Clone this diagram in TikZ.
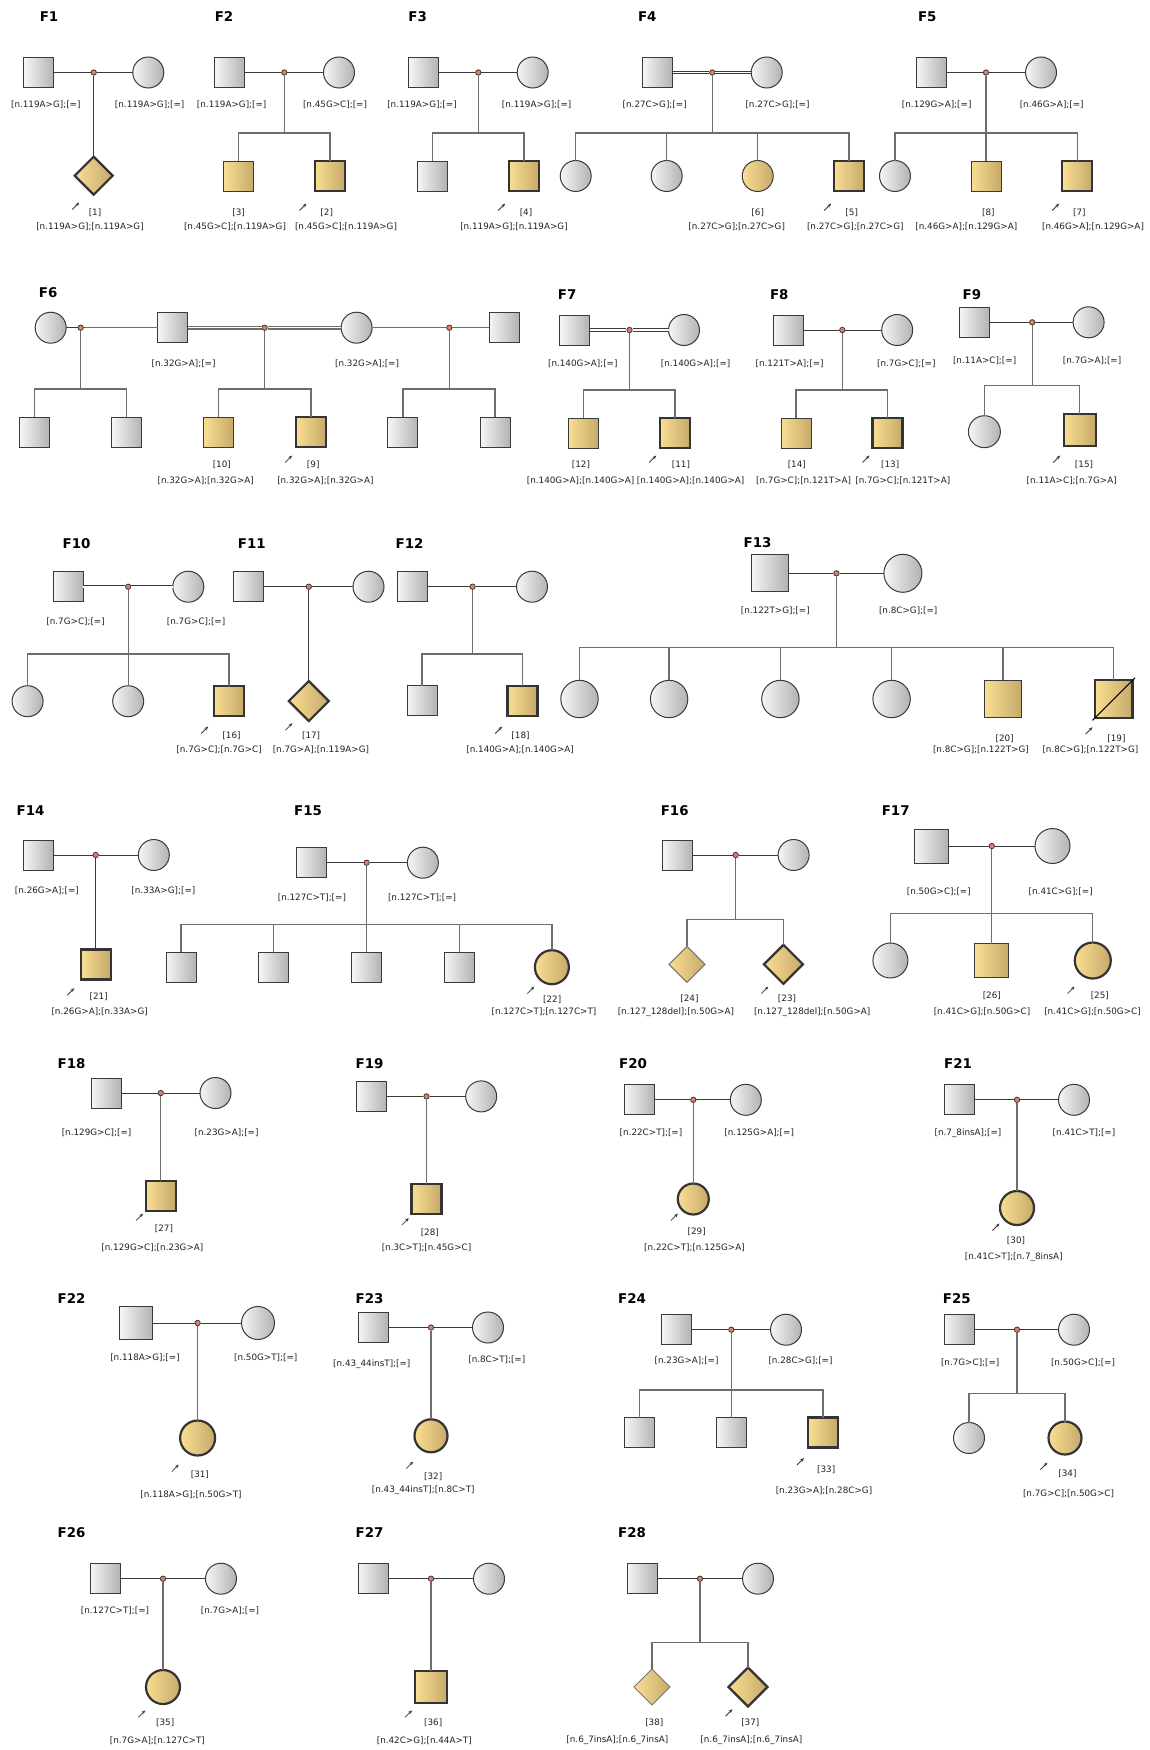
\documentclass[tikz,border=0pt]{standalone}
\usepackage{fontspec}
\setmainfont{DejaVu Sans}
\usetikzlibrary{shapes.geometric,arrows.meta,calc}
\definecolor{ugl}{HTML}{F6F6F6}
\definecolor{ugr}{HTML}{B2B2B2}
\definecolor{agl}{HTML}{FADE92}
\definecolor{agr}{HTML}{C6A96A}
\definecolor{bord}{HTML}{3A3A3A}
\definecolor{mlc}{HTML}{3A3A3A}
\definecolor{dlc}{HTML}{6E6E6E}
\definecolor{dotc}{HTML}{E57D68}
\definecolor{txt}{HTML}{222222}
\tikzset{
 ind/.style={draw=bord, line width=0.5pt, inner sep=0pt, outer sep=0pt},
 male/.style={ind, rectangle, minimum size=15pt, left color=ugl, right color=ugr},
 female/.style={ind, circle, minimum size=15.5pt, left color=ugl, right color=ugr},
 aff/.style={left color=agl, right color=agr},
 prob/.style={line width=1.1pt, draw=bord!90!black},
 unk/.style={ind, diamond, minimum size=19pt, left color=agl, right color=agr},
 mdot/.style={circle, draw=bord, fill=dotc, line width=0.4pt, minimum size=2.7pt, inner sep=0pt},
 mline/.style={draw=mlc, line width=0.5pt},
 cline/.style={draw=dlc, line width=0.65pt},
 consang/.style={draw=mlc, double=white, double distance=0.8pt, line width=0.45pt},
 lab/.style={font=\fontsize{4.4}{5}\selectfont, text=txt, inner sep=0pt},
 ttl/.style={font=\fontsize{6.7}{8}\selectfont\bfseries, inner sep=0pt},
 parrow/.style={-{Stealth[length=2pt,width=1.6pt]}, line width=0.4pt, draw=mlc},
}
\newcommand{\parr}[1]{\draw[parrow] ($(#1)+(-3.5,3.5)$) -- ($(#1)+(3.5,-3.5)$);}
\begin{document}
\begin{tikzpicture}[x=0.5pt,y=-0.5pt]
\useasboundingbox[fill=white] (0,0) rectangle (1150,1750);

% ================= F1
\node[ttl] (t1) at (49,17) {F1};
\node[male] (f1m) at (38.8,72.5) {};
\node[female] (f1f) at (148.3,72.5) {};
\node[mdot] (f1d) at (93.7,72.5) {};
\node[unk,prob] (f1c1) at (93.7,175.7) {};
\draw[mline] (f1m) -- (f1d) -- (f1f);
\draw[mline] (f1d) -- (f1c1);
\node[lab] (f1ml) at (45.8,105) {[n.119A>G];[=]};
\node[lab] (f1fl) at (149.7,105) {[n.119A>G];[=]};
\node[lab] (f1n1) at (95,213) {[1]};
\node[lab] (f1g1) at (90,227) {[n.119A>G];[n.119A>G]};
\coordinate (f1a) at (75.8,206); \parr{f1a}

% ================= F2
\node[ttl] (t2) at (224,17) {F2};
\node[male] (f2m) at (229.7,72.5) {};
\node[female] (f2f) at (339,72.5) {};
\node[mdot] (f2d) at (284.3,72.5) {};
\coordinate (f2s) at (284.3,133);
\node[male,aff] (f2c1) at (238.7,176) {};
\node[male,aff,prob] (f2c2) at (330,176) {};
\draw[mline] (f2m) -- (f2d) -- (f2f);
\draw[cline] (f2d) -- (f2s);
\draw[cline] (f2c1.north) |- (f2s) -| (f2c2.north);
\node[lab] (f2ml) at (231.7,105) {[n.119A>G];[=]};
\node[lab] (f2fl) at (335,105) {[n.45G>C];[=]};
\node[lab] (f2n1) at (238.7,213) {[3]};
\node[lab] (f2g1) at (235,227) {[n.45G>C];[n.119A>G]};
\node[lab] (f2n2) at (326.7,213) {[2]};
\node[lab] (f2g2) at (346,227) {[n.45G>C];[n.119A>G]};
\coordinate (f2a) at (303,207); \parr{f2a}

% ================= F3
\node[ttl] (t3) at (417.7,17) {F3};
\node[male] (f3m) at (423.7,72.5) {};
\node[female] (f3f) at (532.7,72.5) {};
\node[mdot] (f3d) at (478.3,72.5) {};
\coordinate (f3s) at (478.3,133);
\node[male] (f3c1) at (432.3,176) {};
\node[male,aff,prob] (f3c2) at (524,176) {};
\draw[mline] (f3m) -- (f3d) -- (f3f);
\draw[cline] (f3d) -- (f3s);
\draw[cline] (f3c1.north) |- (f3s) -| (f3c2.north);
\node[lab] (f3ml) at (422,105) {[n.119A>G];[=]};
\node[lab] (f3fl) at (536.7,105) {[n.119A>G];[=]};
\node[lab] (f3n2) at (526,213) {[4]};
\node[lab] (f3g2) at (514,227) {[n.119A>G];[n.119A>G]};
\coordinate (f3a) at (501.7,207); \parr{f3a}

% ================= F4
\node[ttl] (t4) at (647.3,17) {F4};
\node[male] (f4m) at (657.5,72.5) {};
\node[female] (f4f) at (766.7,72.5) {};
\node[mdot] (f4d) at (712.3,72.5) {};
\coordinate (f4s) at (712.3,133);
\node[female] (f4c1) at (575.7,176) {};
\node[female] (f4c2) at (666.7,176) {};
\node[female,aff] (f4c3) at (757.7,176) {};
\node[male,aff,prob] (f4c4) at (849,176) {};
\draw[consang] (f4m) -- (f4d) -- (f4f);
\draw[cline] (f4d) -- (f4s);
\draw[cline] (f4c1.north) |- (f4s) -| (f4c4.north);
\draw[cline] (f4c2.north) -- (f4c2.north |- f4s);
\draw[cline] (f4c3.north) -- (f4c3.north |- f4s);
\node[lab] (f4ml) at (654.7,105) {[n.27C>G];[=]};
\node[lab] (f4fl) at (777.5,105) {[n.27C>G];[=]};
\node[lab] (f4n3) at (757.7,213) {[6]};
\node[lab] (f4g3) at (736.7,227) {[n.27C>G];[n.27C>G]};
\node[lab] (f4n4) at (851.7,213) {[5]};
\node[lab] (f4g4) at (855.3,227) {[n.27C>G];[n.27C>G]};
\coordinate (f4a) at (827.7,207); \parr{f4a}

% ================= F5
\node[ttl] (t5) at (927.3,17) {F5};
\node[male] (f5m) at (931.3,72.5) {};
\node[female] (f5f) at (1041,72.5) {};
\node[mdot] (f5d) at (986,72.5) {};
\coordinate (f5s) at (986,133);
\node[female] (f5c1) at (895,176) {};
\node[male,aff] (f5c2) at (986,176) {};
\node[male,aff,prob] (f5c3) at (1077.3,176) {};
\draw[mline] (f5m) -- (f5d) -- (f5f);
\draw[cline] (f5d) -- (f5s);
\draw[cline] (f5c1.north) |- (f5s) -| (f5c3.north);
\draw[cline] (f5c2.north) -- (f5c2.north |- f5s);
\node[lab] (f5ml) at (936.7,105) {[n.129G>A];[=]};
\node[lab] (f5fl) at (1051.7,105) {[n.46G>A];[=]};
\node[lab] (f5n2) at (988.3,213) {[8]};
\node[lab] (f5g2) at (966.3,227) {[n.46G>A];[n.129G>A]};
\node[lab] (f5n3) at (1079.3,213) {[7]};
\node[lab] (f5g3) at (1093,227) {[n.46G>A];[n.129G>A]};
\coordinate (f5a) at (1055.7,207); \parr{f5a}

% ================= F6
\node[ttl] (t6) at (48.2,292.7) {F6};
\node[female] (f6a) at (50.7,327.7) {};
\node[mdot] (f6d1) at (80.7,327.7) {};
\node[male] (f6b) at (172.9,327.7) {};
\node[mdot] (f6d2) at (264.6,327.7) {};
\node[female] (f6c) at (356.6,327.7) {};
\node[mdot] (f6d3) at (449.3,327.7) {};
\node[male] (f6e) at (504.1,327.7) {};
\draw[mline] (f6a) -- (f6d1);
\draw[cline] (f6d1) -- (f6b);
\draw[consang,draw=dlc,line width=0.7pt,double distance=0.6pt] (f6b) -- (f6d2) -- (f6c);
\draw[cline] (f6c) -- (f6d3) -- (f6e);
\coordinate (f6s1) at (80.7,389);
\coordinate (f6s2) at (264.6,389);
\coordinate (f6s3) at (449.3,389);
\node[male] (f6k1) at (34.6,432) {};
\node[male] (f6k2) at (126.8,432) {};
\node[male,aff] (f6k3) at (218.6,432) {};
\node[male,aff,prob] (f6k4) at (311,432) {};
\node[male] (f6k5) at (402.9,432) {};
\node[male] (f6k6) at (495,432) {};
\draw[cline] (f6d1) -- (f6s1);
\draw[cline] (f6d2) -- (f6s2);
\draw[cline] (f6d3) -- (f6s3);
\draw[cline] (f6k1.north) |- (f6s1) -| (f6k2.north);
\draw[cline] (f6k3.north) |- (f6s2) -| (f6k4.north);
\draw[cline] (f6k5.north) |- (f6s3) -| (f6k6.north);
\node[lab] (f6bl) at (183.6,364) {[n.32G>A];[=]};
\node[lab] (f6cl) at (367.1,364) {[n.32G>A];[=]};
\node[lab] (f6n3) at (221.8,464.3) {[10]};
\node[lab] (f6g3) at (205.7,480.7) {[n.32G>A];[n.32G>A]};
\node[lab] (f6n4) at (313.2,464.3) {[9]};
\node[lab] (f6g4) at (325.4,480.7) {[n.32G>A];[n.32G>A]};
\coordinate (f6ar) at (288.6,459); \parr{f6ar}

% ================= F7
\node[ttl] (t7) at (567.2,295) {F7};
\node[male] (f7m) at (574.6,330) {};
\node[female] (f7f) at (684,330) {};
\node[mdot] (f7d) at (629.5,330) {};
\coordinate (f7s) at (629.5,390);
\node[male,aff] (f7c1) at (583.6,433.3) {};
\node[male,aff,prob] (f7c2) at (675,433.3) {};
\draw[consang] (f7m) -- (f7d) -- (f7f);
\draw[cline] (f7d) -- (f7s);
\draw[cline] (f7c1.north) |- (f7s) -| (f7c2.north);
\node[lab] (f7ml) at (582.8,364) {[n.140G>A];[=]};
\node[lab] (f7fl) at (695.6,364) {[n.140G>A];[=]};
\node[lab] (f7n1) at (580.9,465) {[12]};
\node[lab] (f7g1) at (580.6,480.7) {[n.140G>A];[n.140G>A]};
\node[lab] (f7n2) at (680.9,465) {[11]};
\node[lab] (f7g2) at (690.6,480.7) {[n.140G>A];[n.140G>A]};
\coordinate (f7a) at (652.8,459); \parr{f7a}

% ================= F8
\node[ttl] (t8) at (779.3,295) {F8};
\node[male] (f8m) at (788.2,330) {};
\node[female] (f8f) at (897.2,330) {};
\node[mdot] (f8d) at (842.3,330) {};
\coordinate (f8s) at (842.3,390);
\node[male,aff] (f8c1) at (796,433.3) {};
\node[male,aff,prob] (f8c2) at (887.5,433.3) {};
\draw[mline] (f8m) -- (f8d) -- (f8f);
\draw[cline] (f8d) -- (f8s);
\draw[cline] (f8c1.north) |- (f8s) -| (f8c2.north);
\node[lab] (f8ml) at (789.6,364) {[n.121T>A];[=]};
\node[lab] (f8fl) at (906.3,364) {[n.7G>C];[=]};
\node[lab] (f8n1) at (796.8,465) {[14]};
\node[lab] (f8g1) at (803.6,480.7) {[n.7G>C];[n.121T>A]};
\node[lab] (f8n2) at (890.2,465) {[13]};
\node[lab] (f8g2) at (902.8,480.7) {[n.7G>C];[n.121T>A]};
\coordinate (f8a) at (866,459); \parr{f8a}

% ================= F9
\node[ttl] (t9) at (971.9,295) {F9};
\node[male] (f9m) at (974.4,322.3) {};
\node[female] (f9f) at (1088.6,322.3) {};
\node[mdot] (f9d) at (1032.2,322.3) {};
\coordinate (f9s) at (1032.2,385.7);
\node[female,minimum size=16pt] (f9c1) at (984.4,431.7) {};
\node[male,aff,prob,minimum size=16pt] (f9c2) at (1079.7,429.7) {};
\draw[mline] (f9m) -- (f9d) -- (f9f);
\draw[cline] (f9d) -- (f9s);
\draw[cline] (f9c1.north) |- (f9s) -| (f9c2.north);
\node[lab] (f9ml) at (984.6,360.7) {[n.11A>C];[=]};
\node[lab] (f9fl) at (1092.1,360.7) {[n.7G>A];[=]};
\node[lab] (f9n2) at (1084,465) {[15]};
\node[lab] (f9g2) at (1071.7,480.7) {[n.11A>C];[n.7G>A]};
\coordinate (f9a) at (1056.7,459); \parr{f9a}

% ================= F10
\node[ttl] (t10) at (76.5,543.3) {F10};
\node[male] (f10m) at (68.3,586.7) {};
\node[female] (f10f) at (188.3,586.7) {};
\node[mdot] (f10d) at (128.2,586.7) {};
\coordinate (f10s) at (128.2,654);
\node[female] (f10c1) at (27.6,701.2) {};
\node[female] (f10c2) at (128.2,701.2) {};
\node[male,aff,prob] (f10c3) at (228.9,701.2) {};
\draw[consang] (f10m) -- (f10d) -- (f10f);
\draw[cline] (f10d) -- (f10s);
\draw[cline] (f10c1.north) |- (f10s) -| (f10c3.north);
\draw[cline] (f10c2.north) -- (f10c2.north |- f10s);
\node[lab] (f10ml) at (75.6,621.7) {[n.7G>C];[=]};
\node[lab] (f10fl) at (196.1,621.7) {[n.7G>C];[=]};
\node[lab] (f10n3) at (231.5,736) {[16]};
\node[lab] (f10g3) at (219.1,750) {[n.7G>C];[n.7G>C]};
\coordinate (f10a) at (204.7,730); \parr{f10a}

% ================= F11
\node[ttl] (t11) at (251.8,543.3) {F11};
\node[male] (f11m) at (248.8,586.7) {};
\node[female] (f11f) at (368.5,586.7) {};
\node[mdot] (f11d) at (308.8,586.7) {};
\node[unk,prob,minimum size=20pt] (f11c1) at (308.8,701) {};
\draw[mline] (f11m) -- (f11d) -- (f11f);
\draw[mline] (f11d) -- (f11c1);
\node[lab] (f11n1) at (311.1,736) {[17]};
\node[lab] (f11g1) at (320.9,750) {[n.7G>A];[n.119A>G]};
\coordinate (f11a) at (288.9,726.7); \parr{f11a}

% ================= F12
\node[ttl] (t12) at (409.5,543.3) {F12};
\node[male] (f12m) at (412.4,586.7) {};
\node[female] (f12f) at (532,586.7) {};
\node[mdot] (f12d) at (472.6,586.7) {};
\coordinate (f12s) at (472.6,654);
\node[male] (f12c1) at (422.1,700.8) {};
\node[male,aff,prob] (f12c2) at (522.4,700.8) {};
\draw[mline] (f12m) -- (f12d) -- (f12f);
\draw[cline] (f12d) -- (f12s);
\draw[cline] (f12c1.north) |- (f12s) -| (f12c2.north);
\node[lab] (f12n2) at (520.5,736) {[18]};
\node[lab] (f12g2) at (520.1,750) {[n.140G>A];[n.140G>A]};
\coordinate (f12a) at (498.7,730); \parr{f12a}

% ================= F13
\node[ttl] (t13) at (757.5,542.7) {F13};
\node[male,minimum size=18.5pt] (f13m) at (769.5,573.3) {};
\node[female,minimum size=19pt] (f13f) at (902.9,573.3) {};
\node[mdot] (f13d) at (836.4,573.3) {};
\coordinate (f13s) at (836.4,647.7);
\node[female,minimum size=18.7pt] (f13c1) at (579.5,699) {};
\node[female,minimum size=18.7pt] (f13c2) at (669.1,699) {};
\node[female,minimum size=18.7pt] (f13c3) at (780.4,699) {};
\node[female,minimum size=18.7pt] (f13c4) at (891.6,699) {};
\node[male,aff,minimum size=18.7pt] (f13c5) at (1002.9,699) {};
\node[male,aff,prob,minimum size=18.7pt] (f13c6) at (1113.8,699) {};
\draw[mline] (f13m) -- (f13d) -- (f13f);
\draw[cline] (f13d) -- (f13s);
\draw[cline] (f13c1.north) |- (f13s) -| (f13c6.north);
\draw[cline] (f13c2.north) -- (f13c2.north |- f13s);
\draw[cline] (f13c3.north) -- (f13c3.north |- f13s);
\draw[cline] (f13c4.north) -- (f13c4.north |- f13s);
\draw[cline] (f13c5.north) -- (f13c5.north |- f13s);
\draw[draw=black, line width=0.55pt] ($(f13c6.south west)!-0.07!(f13c6.north east)$) -- ($(f13c6.north east)!-0.07!(f13c6.south west)$);
\node[lab] (f13ml) at (775.3,611) {[n.122T>G];[=]};
\node[lab] (f13fl) at (908.2,611) {[n.8C>G];[=]};
\node[lab] (f13n5) at (1004.7,738.3) {[20]};
\node[lab] (f13g5) at (980.9,750) {[n.8C>G];[n.122T>G]};
\node[lab] (f13n6) at (1116.4,738.3) {[19]};
\node[lab] (f13g6) at (1090.4,750) {[n.8C>G];[n.122T>G]};
\coordinate (f13a) at (1089,730.7); \parr{f13a}

% ================= F14
\node[ttl] (t14) at (30.6,810.7) {F14};
\node[male] (f14m) at (38.3,855) {};
\node[female] (f14f) at (153.8,855) {};
\node[mdot] (f14d) at (95.7,855) {};
\node[male,aff,prob] (f14c1) at (95.7,964.5) {};
\draw[mline] (f14m) -- (f14d) -- (f14f);
\draw[mline] (f14d) -- (f14c1);
\node[lab] (f14ml) at (46.9,890.7) {[n.26G>A];[=]};
\node[lab] (f14fl) at (163.4,890.7) {[n.33A>G];[=]};
\node[lab] (f14n1) at (98.7,996.7) {[21]};
\node[lab] (f14g1) at (99.7,1011.7) {[n.26G>A];[n.33A>G]};
\coordinate (f14a) at (70.8,991.7); \parr{f14a}

% ================= F15
\node[ttl] (t15) at (308.1,810.7) {F15};
\node[male] (f15m) at (311.3,862.7) {};
\node[female] (f15f) at (422.9,862.7) {};
\node[mdot] (f15d) at (366.6,862.7) {};
\coordinate (f15s) at (366.6,924.3);
\node[male] (f15c1) at (181,967.2) {};
\node[male] (f15c2) at (273.6,967.2) {};
\node[male] (f15c3) at (366.6,967.2) {};
\node[male] (f15c4) at (459.2,967.2) {};
\node[female,aff,prob,minimum size=17pt] (f15c5) at (551.9,967.2) {};
\draw[mline] (f15m) -- (f15d) -- (f15f);
\draw[cline] (f15d) -- (f15s);
\draw[cline] (f15c1.north) |- (f15s) -| (f15c5.north);
\draw[cline] (f15c2.north) -- (f15c2.north |- f15s);
\draw[cline] (f15c3.north) -- (f15c3.north |- f15s);
\draw[cline] (f15c4.north) -- (f15c4.north |- f15s);
\node[lab] (f15ml) at (311.9,897.3) {[n.127C>T];[=]};
\node[lab] (f15fl) at (422.1,897.3) {[n.127C>T];[=]};
\node[lab] (f15n5) at (552.2,999.3) {[22]};
\node[lab] (f15g5) at (544,1011.7) {[n.127C>T];[n.127C>T]};
\coordinate (f15a) at (530.8,990); \parr{f15a}

% ================= F16
\node[ttl] (t16) at (674.7,810.7) {F16};
\node[male] (f16m) at (677.7,855) {};
\node[female] (f16f) at (793.6,855) {};
\node[mdot] (f16d) at (735.7,855) {};
\coordinate (f16s) at (735.7,919.3);
\node[unk,minimum size=18pt,draw=bord!70] (f16c1) at (687,964.3) {};
\node[unk,prob,minimum size=19.5pt] (f16c2) at (783.4,964.3) {};
\draw[mline] (f16m) -- (f16d) -- (f16f);
\draw[cline] (f16d) -- (f16s);
\draw[cline] (f16c1.north) |- (f16s) -| (f16c2.north);
\node[lab] (f16n1) at (689.4,998.3) {[24]};
\node[lab] (f16g1) at (675.9,1012) {[n.127\_128del];[n.50G>A]};
\node[lab] (f16n2) at (787,998.3) {[23]};
\node[lab] (f16g2) at (812.2,1012) {[n.127\_128del];[n.50G>A]};
\coordinate (f16a) at (764.9,990); \parr{f16a}

% ================= F17
\node[ttl] (t17) at (895.7,810.7) {F17};
\node[male,minimum size=17pt] (f17m) at (931.1,846) {};
\node[female,minimum size=17.5pt] (f17f) at (1052.5,846) {};
\node[mdot] (f17d) at (991.8,846) {};
\coordinate (f17s) at (991.8,913.3);
\node[female,minimum size=17.5pt] (f17c1) at (890.4,960.5) {};
\node[male,aff,minimum size=17pt] (f17c2) at (991.8,960.5) {};
\node[female,aff,prob,minimum size=18pt] (f17c3) at (1092.8,960.5) {};
\draw[mline] (f17m) -- (f17d) -- (f17f);
\draw[cline] (f17d) -- (f17s);
\draw[cline] (f17c1.north) |- (f17s) -| (f17c3.north);
\draw[cline] (f17c2.north) -- (f17c2.north |- f17s);
\node[lab] (f17ml) at (938.8,891.7) {[n.50G>C];[=]};
\node[lab] (f17fl) at (1060.7,891.7) {[n.41C>G];[=]};
\node[lab] (f17n2) at (991.8,995.7) {[26]};
\node[lab] (f17g2) at (982,1011.7) {[n.41C>G];[n.50G>C]};
\node[lab] (f17n3) at (1099.8,995.7) {[25]};
\node[lab] (f17g3) at (1092.5,1011.7) {[n.41C>G];[n.50G>C]};
\coordinate (f17a) at (1071.1,990); \parr{f17a}

% ================= F18
\node[ttl] (t18) at (71.5,1064) {F18};
\node[male] (f18m) at (106,1093) {};
\node[female] (f18f) at (215.5,1093) {};
\node[mdot] (f18d) at (160.8,1093) {};
\node[male,aff,prob] (f18c1) at (160.8,1195.8) {};
\draw[mline] (f18m) -- (f18d) -- (f18f);
\draw[cline] (f18d) -- (f18c1);
\node[lab] (f18ml) at (96.6,1133) {[n.129G>C];[=]};
\node[lab] (f18fl) at (226.6,1133) {[n.23G>A];[=]};
\node[lab] (f18n1) at (164,1229) {[27]};
\node[lab] (f18g1) at (152.4,1248) {[n.129G>C];[n.23G>A]};
\coordinate (f18a) at (139.6,1217); \parr{f18a}

% ================= F19
\node[ttl] (t19) at (369.6,1064) {F19};
\node[male] (f19m) at (371.8,1096.4) {};
\node[female] (f19f) at (481.2,1096.4) {};
\node[mdot] (f19d) at (426.5,1096.4) {};
\node[male,aff,prob] (f19c1) at (426.5,1199) {};
\draw[mline] (f19m) -- (f19d) -- (f19f);
\draw[cline] (f19d) -- (f19c1);
\node[lab] (f19n1) at (429.8,1232.6) {[28]};
\node[lab] (f19g1) at (426.5,1248) {[n.3C>T];[n.45G>C]};
\coordinate (f19a) at (405.3,1221.5); \parr{f19a}

% ================= F20
\node[ttl] (t20) at (633,1064) {F20};
\node[male] (f20m) at (639.8,1099.8) {};
\node[female] (f20f) at (745.8,1099.8) {};
\node[mdot] (f20d) at (693.3,1099.8) {};
\node[female,aff,prob] (f20c1) at (693.3,1199) {};
\draw[mline] (f20m) -- (f20d) -- (f20f);
\draw[cline] (f20d) -- (f20c1);
\node[lab] (f20ml) at (651,1133) {[n.22C>T];[=]};
\node[lab] (f20fl) at (759.2,1133) {[n.125G>A];[=]};
\node[lab] (f20n1) at (696.7,1231.5) {[29]};
\node[lab] (f20g1) at (694.5,1248) {[n.22C>T];[n.125G>A]};
\coordinate (f20a) at (674.4,1217); \parr{f20a}

% ================= F21
\node[ttl] (t21) at (958,1064) {F21};
\node[male] (f21m) at (959,1099.8) {};
\node[female] (f21f) at (1074,1099.8) {};
\node[mdot] (f21d) at (1017,1099.8) {};
\node[female,aff,prob,minimum size=17pt] (f21c1) at (1017,1208) {};
\draw[mline] (f21m) -- (f21d) -- (f21f);
\draw[cline] (f21d) -- (f21c1);
\node[lab] (f21ml) at (968,1133) {[n.7\_8insA];[=]};
\node[lab] (f21fl) at (1084,1133) {[n.41C>T];[=]};
\node[lab] (f21n1) at (1016,1240.5) {[30]};
\node[lab] (f21g1) at (1013.8,1257) {[n.41C>T];[n.7\_8insA]};
\coordinate (f21a) at (996,1227); \parr{f21a}

% ================= F22
\node[ttl] (t22) at (71.5,1298.5) {F22};
\node[male,minimum size=16.5pt] (f22m) at (136.2,1323) {};
\node[female,minimum size=16.5pt] (f22f) at (258,1323) {};
\node[mdot] (f22d) at (197.6,1323) {};
\node[female,aff,prob,minimum size=17.5pt] (f22c1) at (197.6,1438) {};
\draw[mline] (f22m) -- (f22d) -- (f22f);
\draw[cline] (f22d) -- (f22c1);
\node[lab] (f22ml) at (145,1357.7) {[n.118A>G];[=]};
\node[lab] (f22fl) at (265.7,1357.7) {[n.50G>T];[=]};
\node[lab] (f22n1) at (199.9,1475) {[31]};
\node[lab] (f22g1) at (191,1495) {[n.118A>G];[n.50G>T]};
\coordinate (f22a) at (175.3,1468); \parr{f22a}

% ================= F23
\node[ttl] (t23) at (369.6,1298.5) {F23};
\node[male] (f23m) at (373,1327.5) {};
\node[female] (f23f) at (488,1327.5) {};
\node[mdot] (f23d) at (431,1327.5) {};
\node[female,aff,prob,minimum size=16.5pt] (f23c1) at (431,1435.8) {};
\draw[mline] (f23m) -- (f23d) -- (f23f);
\draw[cline] (f23d) -- (f23c1);
\node[lab] (f23ml) at (371.8,1364.4) {[n.43\_44insT];[=]};
\node[lab] (f23fl) at (496.8,1360) {[n.8C>T];[=]};
\node[lab] (f23n1) at (433.2,1477) {[32]};
\node[lab] (f23g1) at (423.2,1490.5) {[n.43\_44insT];[n.8C>T]};
\coordinate (f23a) at (409.8,1465); \parr{f23a}

% ================= F24
\node[ttl] (t24) at (632,1298.5) {F24};
\node[male] (f24m) at (676.6,1329.7) {};
\node[female] (f24f) at (786,1329.7) {};
\node[mdot] (f24d) at (731.3,1329.7) {};
\coordinate (f24s) at (731.3,1390);
\node[male] (f24c1) at (639.8,1432.5) {};
\node[male] (f24c2) at (731.3,1432.5) {};
\node[male,aff,prob] (f24c3) at (822.9,1432.5) {};
\draw[mline] (f24m) -- (f24d) -- (f24f);
\draw[cline] (f24d) -- (f24c2);
\draw[cline] (f24c1.north) |- (f24s) -| (f24c3.north);
\node[lab] (f24ml) at (686.6,1361) {[n.23G>A];[=]};
\node[lab] (f24fl) at (800.5,1361) {[n.28C>G];[=]};
\node[lab] (f24n3) at (826.2,1469.3) {[33]};
\node[lab] (f24g3) at (824,1490.5) {[n.23G>A];[n.28C>G]};
\coordinate (f24a) at (800.5,1461.5); \parr{f24a}

% ================= F25
\node[ttl] (t25) at (956.8,1298.5) {F25};
\node[male] (f25m) at (959,1329.7) {};
\node[female] (f25f) at (1074,1329.7) {};
\node[mdot] (f25d) at (1017,1329.7) {};
\coordinate (f25s) at (1017,1393.4);
\node[female] (f25c1) at (969,1438) {};
\node[female,aff,prob,minimum size=16.5pt] (f25c2) at (1065,1438) {};
\draw[mline] (f25m) -- (f25d) -- (f25f);
\draw[cline] (f25d) -- (f25s);
\draw[cline] (f25c1.north) |- (f25s) -| (f25c2.north);
\node[lab] (f25ml) at (970.2,1363) {[n.7G>C];[=]};
\node[lab] (f25fl) at (1083,1363) {[n.50G>C];[=]};
\node[lab] (f25n2) at (1067.4,1473.8) {[34]};
\node[lab] (f25g2) at (1068.5,1493.9) {[n.7G>C];[n.50G>C]};
\coordinate (f25a) at (1044,1466); \parr{f25a}

% ================= F26
\node[ttl] (t26) at (71.5,1533) {F26};
\node[male] (f26m) at (105,1578.7) {};
\node[female] (f26f) at (221,1578.7) {};
\node[mdot] (f26d) at (163,1578.7) {};
\node[female,aff,prob,minimum size=17pt] (f26c1) at (163,1687) {};
\draw[mline] (f26m) -- (f26d) -- (f26f);
\draw[cline] (f26d) -- (f26c1);
\node[lab] (f26ml) at (115,1611) {[n.127C>T];[=]};
\node[lab] (f26fl) at (230,1611) {[n.7G>A];[=]};
\node[lab] (f26n1) at (165.2,1722.8) {[35]};
\node[lab] (f26g1) at (157.4,1740.6) {[n.7G>A];[n.127C>T]};
\coordinate (f26a) at (141.8,1713.8); \parr{f26a}

% ================= F27
\node[ttl] (t27) at (369.6,1533) {F27};
\node[male] (f27m) at (373,1578.7) {};
\node[female] (f27f) at (489,1578.7) {};
\node[mdot] (f27d) at (431,1578.7) {};
\node[male,aff,prob,minimum size=16pt] (f27c1) at (431,1687) {};
\draw[mline] (f27m) -- (f27d) -- (f27f);
\draw[cline] (f27d) -- (f27c1);
\node[lab] (f27n1) at (433.2,1722.8) {[36]};
\node[lab] (f27g1) at (424.3,1740.6) {[n.42C>G];[n.44A>T]};
\coordinate (f27a) at (408.6,1713.8); \parr{f27a}

% ================= F28
\node[ttl] (t28) at (632,1533) {F28};
\node[male] (f28m) at (642,1578.7) {};
\node[female] (f28f) at (758,1578.7) {};
\node[mdot] (f28d) at (700,1578.7) {};
\coordinate (f28s) at (700,1642.4);
\node[unk,minimum size=18pt,draw=bord!70] (f28c1) at (652,1687) {};
\node[unk,prob,minimum size=19.5pt] (f28c2) at (748,1687) {};
\draw[mline] (f28m) -- (f28d) -- (f28f);
\draw[cline] (f28d) -- (f28s);
\draw[cline] (f28c1.north) |- (f28s) -| (f28c2.north);
\node[lab] (f28n1) at (654.3,1722.8) {[38]};
\node[lab] (f28g1) at (617.4,1740.6) {[n.6\_7insA];[n.6\_7insA]};
\node[lab] (f28n2) at (750.3,1722.8) {[37]};
\node[lab] (f28g2) at (751.4,1740.6) {[n.6\_7insA];[n.6\_7insA]};
\coordinate (f28a) at (729,1712.7); \parr{f28a}
\end{tikzpicture}
\end{document}
